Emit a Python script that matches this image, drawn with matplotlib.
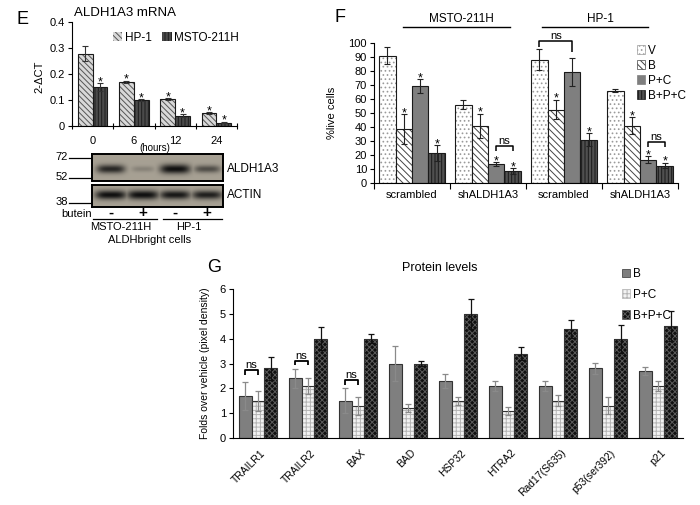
import numpy as np
import matplotlib
matplotlib.use('Agg')
import matplotlib.pyplot as plt
from matplotlib.patches import Patch
from matplotlib.lines import Line2D
from matplotlib.transforms import blended_transform_factory

plt.rcParams['font.family'] = ['Liberation Sans', 'DejaVu Sans']
plt.rcParams['hatch.linewidth'] = 0.7
plt.rcParams['axes.linewidth'] = 0.8

# ================= DATA =================
# Panel E: ALDH1A3 mRNA (2-dCT)
e_times = ['0', '6', '12', '24']
e_series = ['HP-1', 'MSTO-211H']
e_hp1 = [0.278, 0.171, 0.104, 0.049]
e_hp1_err = [0.028, 0.004, 0.004, 0.004]
e_msto = [0.150, 0.100, 0.040, 0.013]
e_msto_err = [0.015, 0.004, 0.005, 0.003]
e_hp1_star = [0, 1, 1, 1]
e_msto_star = [1, 1, 1, 1]

# Western blot (relative band intensities)
blot_treat = ['-', '+', '-', '+']
blot_cells = ['MSTO-211H', 'HP-1']
blot_proteins = ['ALDH1A3', 'ACTIN']
blot_aldh1a3 = [0.8, 0.2, 1.0, 0.55]
blot_actin = [0.95, 1.0, 0.9, 0.85]
blot_markers = ['72', '52', '38']

# Panel F: % live cells
f_groups = ['scrambled', 'shALDH1A3', 'scrambled', 'shALDH1A3']
f_cells = ['MSTO-211H', 'HP-1']
f_series = ['V', 'B', 'P+C', 'B+P+C']
f_v = [91, 56, 88, 66]
f_v_err = [6, 3, 7.5, 1]
f_b = [38.5, 41, 52.5, 41]
f_b_err = [10.5, 8.5, 7, 6]
f_pc = [69, 13.5, 79, 16.5]
f_pc_err = [5, 1.5, 10, 2.5]
f_bpc = [21.5, 8.5, 31, 12.5]
f_bpc_err = [5.5, 2, 4.5, 2]
f_v_star = [0, 0, 0, 0]
f_b_star = [1, 1, 1, 1]
f_pc_star = [1, 1, 0, 1]
f_bpc_star = [1, 1, 1, 1]

# Panel G: protein levels
g_proteins = ['TRAILR1', 'TRAILR2', 'BAX', 'BAD', 'HSP32', 'HTRA2',
              'Rad17(S635)', 'p53(ser392)', 'p21']
g_series = ['B', 'P+C', 'B+P+C']
g_b = [1.7, 2.4, 1.5, 3.0, 2.3, 2.1, 2.1, 2.8, 2.7]
g_b_err = [0.57, 0.37, 0.5, 0.7, 0.27, 0.2, 0.2, 0.24, 0.15]
g_pc = [1.5, 2.1, 1.3, 1.2, 1.5, 1.1, 1.5, 1.3, 2.1]
g_pc_err = [0.4, 0.33, 0.36, 0.15, 0.16, 0.16, 0.23, 0.34, 0.2]
g_bpc = [2.8, 4.0, 4.0, 3.0, 5.0, 3.4, 4.4, 4.0, 4.5]
g_bpc_err = [0.48, 0.46, 0.18, 0.12, 0.6, 0.25, 0.37, 0.57, 0.6]

# ================= FIGURE =================
W, H = 700, 505
fig = plt.figure(figsize=(7, 5.05), dpi=100)


def fx(x):
    return x / W


def fy(y):
    return 1 - y / H


def axrect(x0, y0, x1, y1):
    return [fx(x0), fy(y1), (x1 - x0) / W, (y1 - y0) / H]


def hbar(ax, x, h, w, face, hatch=None, hcolor=None, edge='#1a1a1a', lw=0.8):
    if hatch:
        ax.bar(x, h, w, color=face, edgecolor=hcolor, hatch=hatch, linewidth=0)
    else:
        ax.bar(x, h, w, color=face, linewidth=0)
    ax.bar(x, h, w, fill=False, edgecolor=edge, linewidth=lw)


def stars(ax, x, tops, flags, fs=9):
    for xi, t, f in zip(x, tops, flags):
        if f:
            ax.annotate('*', (xi, t), xytext=(0, -1.5), textcoords='offset points',
                        ha='center', va='baseline', fontsize=fs)


def bracket(ax, x0, x1, top, b0, b1, fs=8, lw=1.1):
    ax.plot([x0, x0, x1, x1], [b0, top, top, b1], color='k', lw=lw,
            clip_on=False, solid_capstyle='butt')
    ax.text((x0 + x1) / 2, top, 'ns', ha='center', va='bottom', fontsize=fs)


# ---------- Panel E ----------
axE = fig.add_axes(axrect(72, 22, 237, 126))
xe = np.arange(len(e_times))
we = 0.36
e_styles = [dict(face='#d8d8d8', hatch='\\' * 6, hcolor='#555555'),
            dict(face='#4a4a4a', hatch='|' * 5, hcolor='#1e1e1e')]
hbar(axE, xe - we / 2, e_hp1, we, **e_styles[0])
hbar(axE, xe + we / 2, e_msto, we, **e_styles[1])
axE.errorbar(xe - we / 2, e_hp1, yerr=e_hp1_err, fmt='none', ecolor='#333333',
             elinewidth=0.8, capsize=2, capthick=0.8)
axE.errorbar(xe + we / 2, e_msto, yerr=e_msto_err, fmt='none', ecolor='#333333',
             elinewidth=0.8, capsize=2, capthick=0.8)
stars(axE, xe - we / 2, np.array(e_hp1) + np.array(e_hp1_err), e_hp1_star)
stars(axE, xe + we / 2, np.array(e_msto) + np.array(e_msto_err), e_msto_star)
axE.set_xlim(-0.5, len(e_times) - 0.5)
axE.set_ylim(0, 0.4)
axE.set_yticks([0, 0.1, 0.2, 0.3, 0.4])
axE.set_yticklabels(['0', '0.1', '0.2', '0.3', '0.4'])
axE.set_xticks(np.arange(len(e_times) + 1) - 0.5)
axE.set_xticklabels([])
axE.set_xticks(xe, minor=True)
axE.set_xticklabels(e_times, minor=True)
axE.tick_params(axis='x', which='major', direction='inout', length=5, width=0.8)
axE.tick_params(axis='x', which='minor', length=0, pad=7, labelsize=8)
axE.tick_params(axis='y', direction='out', length=3, width=0.8, labelsize=8, pad=2)
for s in ['top', 'right']:
    axE.spines[s].set_visible(False)
axE.set_ylabel('2-ΔCT', fontsize=8)
axE.yaxis.set_label_coords(-0.165, 0.47)
e_handles = [Patch(facecolor=st['face'], edgecolor=st['hcolor'], hatch=st['hatch'], lw=0)
             for st in e_styles]
axE.legend(e_handles, e_series, ncol=2, loc='center', bbox_to_anchor=(0.63, 0.85),
           fontsize=8.5, frameon=False, handlelength=0.8, handleheight=0.8,
           columnspacing=0.9, handletextpad=0.2, borderpad=0)
fig.text(fx(125), fy(13), 'ALDH1A3 mRNA', ha='center', va='center', fontsize=9.5)
fig.text(fx(23), fy(19), 'E', ha='center', va='center', fontsize=13)
fig.text(fx(154.5), fy(148), '(hours)', ha='center', va='center', fontsize=7)

# ---------- Western blot ----------
lane_x = 0.145 + 0.245 * np.arange(len(blot_treat))
bg = np.array([0.655, 0.63, 0.58])


def blot(ax, intens, yc, half_h, half_w):
    nx, ny = 262, 60
    xs = (np.arange(nx) + 0.5) / nx
    ys = (np.arange(ny) + 0.5) / ny
    X, Y = np.meshgrid(xs, ys)
    a = np.zeros_like(X)
    for cx, v in zip(lane_x, intens):
        hw = half_w * (0.75 + 0.35 * v)
        hh = half_h * (0.55 + 0.5 * v)
        prof = np.exp(-np.abs((X - cx) / hw) ** 4) * np.exp(-((Y - yc) / hh) ** 2)
        a = np.maximum(a, min(1.0, v * 1.05) * prof)
    img = bg[None, None, :] * (1 - a[..., None]) + 0.06 * a[..., None]
    ax.imshow(img, extent=(0, 1, 0, 1), aspect='auto', origin='lower')
    ax.set_xlim(0, 1)
    ax.set_ylim(0, 1)
    ax.set_xticks([])
    ax.set_yticks([])
    for s in ax.spines.values():
        s.set_linewidth(1.4)


axB1 = fig.add_axes(axrect(92, 154, 223, 181))
blot(axB1, blot_aldh1a3, 0.43, 0.16, 0.105)
axB2 = fig.add_axes(axrect(92, 185, 223, 207))
blot(axB2, blot_actin, 0.55, 0.2, 0.11)
fig.text(fx(227), fy(169), blot_proteins[0], ha='left', va='center', fontsize=8.5)
fig.text(fx(227), fy(195), blot_proteins[1], ha='left', va='center', fontsize=8.5)
for lab, yy in zip(blot_markers, [158, 178, 203]):
    fig.add_artist(Line2D([fx(69), fx(91)], [fy(yy), fy(yy)], color='k', lw=0.9))
    fig.text(fx(68), fy(yy - 1), lab, ha='right', va='center', fontsize=8)
fig.text(fx(61), fy(214), 'butein', ha='left', va='center', fontsize=8)
for cx, t in zip(lane_x, blot_treat):
    fig.text(fx(92 + cx * 131), fy(213), t, ha='center', va='center',
             fontsize=11, fontweight='bold')
for (x0, x1), cell in zip([(93, 157), (163, 222)], blot_cells):
    fig.add_artist(Line2D([fx(x0), fx(x1)], [fy(219), fy(219)], color='k', lw=0.9))
    fig.text(fx((x0 + x1) / 2 - 4), fy(226.5), cell, ha='center', va='center', fontsize=8)
fig.text(fx(150), fy(240), 'ALDHbright cells', ha='center', va='center', fontsize=8)

# ---------- Panel F ----------
axF = fig.add_axes(axrect(374, 43, 678, 183))
xf = np.arange(len(f_groups))
wf = 0.217
f_vals = [f_v, f_b, f_pc, f_bpc]
f_errs = [f_v_err, f_b_err, f_pc_err, f_bpc_err]
f_star = [f_v_star, f_b_star, f_pc_star, f_bpc_star]
f_styles = [dict(face='white', hatch='....', hcolor='#9a9a9a'),
            dict(face='white', hatch='\\' * 5, hcolor='#444444'),
            dict(face='#7f7f7f', hatch=None, hcolor=None),
            dict(face='#505050', hatch='|' * 5, hcolor='#1a1a1a')]
for k in range(4):
    xs = xf + (k - 1.5) * wf
    hbar(axF, xs, f_vals[k], wf, **f_styles[k])
    axF.errorbar(xs, f_vals[k], yerr=f_errs[k], fmt='none', ecolor='#222222',
                 elinewidth=0.8, capsize=2, capthick=0.8)
    stars(axF, xs, np.array(f_vals[k]) + np.array(f_errs[k]), f_star[k])
axF.set_xlim(-0.5, len(f_groups) - 0.5)
axF.set_ylim(0, 100)
axF.set_yticks(np.arange(0, 101, 10))
axF.set_xticks(np.arange(len(f_groups) + 1) - 0.5)
axF.set_xticklabels([])
axF.set_xticks(xf, minor=True)
axF.set_xticklabels(f_groups, minor=True)
axF.tick_params(axis='x', which='major', direction='out', length=4, width=0.8)
axF.tick_params(axis='x', which='minor', length=0, pad=5, labelsize=8)
axF.tick_params(axis='y', direction='out', length=3, width=0.8, labelsize=8, pad=2)
for s in ['top', 'right']:
    axF.spines[s].set_visible(False)
axF.set_ylabel('%live cells', fontsize=8)
axF.yaxis.set_label_coords(-0.122, 0.5)
# ns brackets
bracket(axF, xf[1] + 0.5 * wf, xf[1] + 1.5 * wf, 26.5, 23, 23)
bracket(axF, xf[2] - 1.5 * wf, xf[2] + 0.5 * wf, 101.5, 97, 93.5)
bracket(axF, xf[3] + 0.5 * wf, xf[3] + 1.5 * wf, 29.5, 26, 26)
# cell line header lines
tF = blended_transform_factory(axF.transData, axF.transAxes)
for (x0, x1), cell in zip([(-0.12, 1.29), (1.71, 3.10)], f_cells):
    axF.plot([x0, x1], [1.114, 1.114], color='k', lw=1.0, transform=tF, clip_on=False)
    axF.text((x0 + x1) / 2 + 0.07, 1.13, cell, transform=tF, ha='center',
             va='bottom', fontsize=8.5)
f_handles = [Patch(facecolor=st['face'], edgecolor=st['hcolor'] or '#7f7f7f',
                   hatch=st['hatch'], lw=0.5) for st in f_styles]
axF.legend(f_handles, f_series, loc='upper left', bbox_to_anchor=(0.845, 1.03),
           fontsize=8.5, frameon=False, handlelength=0.7, handleheight=0.7,
           handletextpad=0.25, labelspacing=0.25, borderpad=0)
fig.text(fx(340), fy(18), 'F', ha='center', va='center', fontsize=13)

# ---------- Panel G ----------
axG = fig.add_axes(axrect(233, 289, 683, 438))
xg = np.arange(len(g_proteins))
wg = 0.254
g_vals = [g_b, g_pc, g_bpc]
g_errs = [g_b_err, g_pc_err, g_bpc_err]
g_styles = [dict(face='#7f7f7f', hatch=None, hcolor=None),
            dict(face='#f2f2f2', hatch='++++', hcolor='#b4b4b4'),
            dict(face='#111111', hatch='xxxxxx', hcolor='#5a5a5a')]
g_ecol = ['#8a8a8a', '#8a8a8a', '#111111']
for k in range(3):
    xs = xg + (k - 1) * wg
    hbar(axG, xs, g_vals[k], wg, edge='#333333', lw=0.8, **g_styles[k])
    axG.errorbar(xs, g_vals[k], yerr=g_errs[k], fmt='none', ecolor=g_ecol[k],
                 elinewidth=0.9, capsize=2, capthick=0.9)
axG.set_xlim(-0.5, len(g_proteins) - 0.5)
axG.set_ylim(0, 6)
axG.set_yticks(range(7))
axG.set_xticks(xg + 0.05)
axG.set_xticklabels(g_proteins, rotation=45, ha='right', rotation_mode='anchor',
                    fontsize=7.5)
axG.tick_params(axis='x', length=0, pad=7)
axG.tick_params(axis='y', direction='out', length=3, width=0.8, labelsize=8, pad=2)
for s in ['top', 'right']:
    axG.spines[s].set_visible(False)
axG.set_ylabel('Folds over vehicle (pixel density)', fontsize=7.5)
axG.yaxis.set_label_coords(-0.051, 0.5)
bracket(axG, xg[0] - wg, xg[0], 2.72, 2.52, 2.52, lw=1.3)
bracket(axG, xg[1] - wg, xg[1], 3.12, 2.92, 2.92, lw=1.3)
bracket(axG, xg[2] - wg, xg[2], 2.34, 2.12, 2.12, lw=1.3)
g_handles = [Patch(facecolor=st['face'], edgecolor=st['hcolor'] or '#333333',
                   hatch=st['hatch'], lw=0.5) for st in g_styles]
fig.legend(g_handles, g_series, loc='upper left', bbox_to_anchor=(fx(616), fy(262)),
           fontsize=8.5, frameon=False, handlelength=0.7, handleheight=0.7,
           handletextpad=0.25, labelspacing=0.75, borderpad=0)
fig.text(fx(440), fy(268), 'Protein levels', ha='center', va='center', fontsize=9)
fig.text(fx(214), fy(268), 'G', ha='center', va='center', fontsize=13)

fig.savefig('out.png', dpi=100)
